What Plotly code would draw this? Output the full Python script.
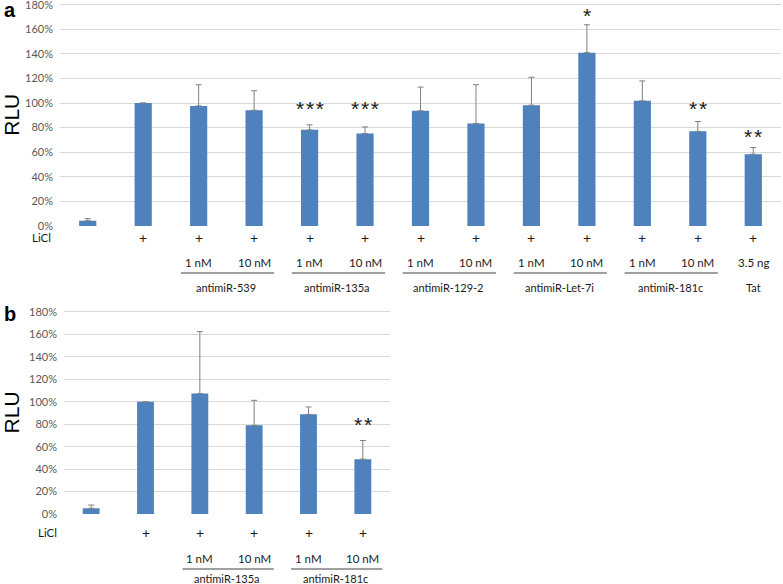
import plotly.graph_objects as go

W, H = 783, 584

# ---------------- data ----------------
a_values = [0.043, 1.00, 0.977, 0.942, 0.782, 0.752, 0.937, 0.834, 0.983, 1.41, 1.018, 0.77, 0.584]
a_errors = [0.017, None, 0.172, 0.158, 0.041, 0.054, 0.193, 0.316, 0.227, 0.227, 0.162, 0.08, 0.054]
a_licl = ["", "+", "+", "+", "+", "+", "+", "+", "+", "+", "+", "+", "+"]
a_dose = ["", "", "1 nM", "10 nM", "1 nM", "10 nM", "1 nM", "10 nM", "1 nM", "10 nM", "1 nM", "10 nM", "3.5 ng"]
a_stars = ["", "", "", "", "***", "***", "", "", "", "*", "", "**", "**"]
a_star_y = [0, 0, 0, 0, 0.955, 0.955, 0, 0, 0, 1.71, 0, 0.955, 0.73]
a_groups = ["antimiR-539", "antimiR-135a", "antimiR-129-2", "antimiR-Let-7i", "antimiR-181c"]
a_group_start = [2, 4, 6, 8, 10]

b_values = [0.051, 1.00, 1.073, 0.79, 0.888, 0.489]
b_errors = [0.029, None, 0.552, 0.223, 0.066, 0.166]
b_licl = ["", "+", "+", "+", "+", "+"]
b_dose = ["", "", "1 nM", "10 nM", "1 nM", "10 nM"]
b_stars = ["", "", "", "", "", "**"]
b_star_y = [0, 0, 0, 0, 0, 0.80]
b_groups = ["antimiR-135a", "antimiR-181c"]
b_group_start = [2, 4]

y_ticks = [0, 0.2, 0.4, 0.6, 0.8, 1.0, 1.2, 1.4, 1.6, 1.8]
y_ticklabels = ["0%", "20%", "40%", "60%", "80%", "100%", "120%", "140%", "160%", "180%"]
Y_MAX = 1.81

BAR = "#4f81bd"
ERR = "#808080"
GRID = "#d9d9d9"
TICKC = "#595959"
TXT = "#1a1a1a"
TFONT = "Lato"

def py(p):
    return 1 - p / H

def top_px(zero_px, px_180):
    # pixel of range top so that 180% falls at px_180
    return zero_px - (zero_px - px_180) * Y_MAX / 1.8

fig = go.Figure()

panels = [
    dict(vals=a_values, errs=a_errors, licl=a_licl, dose=a_dose, stars=a_stars, star_y=a_star_y,
         groups=a_groups, gstart=a_group_start, xa="x", ya="y",
         xdom=[60 / W, 781 / W], ydom=[py(226), py(top_px(226, 4.7))],
         rows=[py(237), py(262), py(273), py(287)], licl_x=53, label="a", label_y=py(10)),
    dict(vals=b_values, errs=b_errors, licl=b_licl, dose=b_dose, stars=b_stars, star_y=b_star_y,
         groups=b_groups, gstart=b_group_start, xa="x2", ya="y2",
         xdom=[64 / W, 390 / W], ydom=[py(514), py(top_px(514, 312))],
         rows=[py(532), py(558), py(569), py(578)], licl_x=59, label="b", label_y=py(314)),
]

annotations = []
shapes = []
for k, p in enumerate(panels):
    n = len(p["vals"])
    xs = list(range(n))
    err_arr = [e if e is not None else 0 for e in p["errs"]]
    fig.add_trace(go.Bar(
        x=xs, y=p["vals"], width=0.31, marker=dict(color=BAR, line=dict(width=0)),
        error_y=dict(type="data", symmetric=False, array=err_arr, arrayminus=[0] * n,
                     color=ERR, thickness=1, width=3, visible=True),
        xaxis=p["xa"], yaxis=p["ya"], showlegend=False, hoverinfo="skip"))
    xa, ya = p["xa"], p["ya"]
    for i in range(n):
        if p["stars"][i]:
            annotations.append(dict(x=i, y=p["star_y"][i], xref=xa, yref=ya,
                                    text="\u200a".join(p["stars"][i]),
                                    showarrow=False, font=dict(family="Liberation Sans", size=21, color=TXT),
                                    xanchor="center", yanchor="middle"))
        if p["licl"][i]:
            annotations.append(dict(x=i, y=p["rows"][0], xref=xa, yref="paper", text=p["licl"][i],
                                    showarrow=False, font=dict(family=TFONT, size=14, color=TXT),
                                    xanchor="center", yanchor="middle"))
        if p["dose"][i]:
            annotations.append(dict(x=i, y=p["rows"][1], xref=xa, yref="paper", text=p["dose"][i],
                                    showarrow=False, font=dict(family=TFONT, size=11.5, color=TXT),
                                    xanchor="center", yanchor="middle"))
    for g, s in zip(p["groups"], p["gstart"]):
        shapes.append(dict(type="line", xref=xa, yref="paper", x0=s - 0.32, x1=s + 1 + 0.36,
                           y0=p["rows"][2], y1=p["rows"][2], line=dict(color="#404040", width=1)))
        annotations.append(dict(x=s + 0.5, y=p["rows"][3], xref=xa, yref="paper", text=g,
                                showarrow=False, font=dict(family=TFONT, size=11, color=TXT),
                                xanchor="center", yanchor="middle"))
    if k == 0:
        annotations.append(dict(x=12, y=p["rows"][3], xref=xa, yref="paper", text="Tat",
                                showarrow=False, font=dict(family=TFONT, size=11, color=TXT),
                                xanchor="center", yanchor="middle"))
    annotations.append(dict(x=p["licl_x"] / W, y=p["rows"][0], xref="paper", yref="paper", text="LiCl",
                            showarrow=False, font=dict(family=TFONT, size=11.5, color=TXT),
                            xanchor="right", yanchor="middle"))
    annotations.append(dict(x=2 / W, y=p["label_y"], xref="paper", yref="paper", text="<b>%s</b>" % p["label"],
                            showarrow=False, font=dict(family="Liberation Sans", size=20, color="#000"),
                            xanchor="left", yanchor="middle"))

axis_common = dict(showgrid=False, zeroline=False, showline=False, showticklabels=False, ticks="")
yaxis_common = dict(range=[0, Y_MAX], tickvals=y_ticks, ticktext=y_ticklabels, showgrid=True, gridcolor=GRID,
                    gridwidth=1, zeroline=False, showline=False, ticks="", automargin=False,
                    ticklabeloverflow="allow",
                    tickfont=dict(family=TFONT, size=11, color=TICKC), ticklabelstandoff=6,
                    title=dict(text="RLU", font=dict(family="Liberation Sans", size=21, color="#000"), standoff=8))

fig.update_layout(
    width=W, height=H, margin=dict(l=0, r=0, t=0, b=0, autoexpand=False),
    paper_bgcolor="white", plot_bgcolor="white",
    bargap=0.69,
    xaxis=dict(domain=panels[0]["xdom"], range=[-0.5, 12.5], anchor="y", automargin=False, **axis_common),
    yaxis=dict(domain=panels[0]["ydom"], anchor="x", **yaxis_common),
    xaxis2=dict(domain=panels[1]["xdom"], range=[-0.5, 5.5], anchor="y2", automargin=False, **axis_common),
    yaxis2=dict(domain=panels[1]["ydom"], anchor="x2", **yaxis_common),
    annotations=annotations, shapes=shapes,
)

fig.write_html("out.html", config={"displayModeBar": False},
               post_script="document.body.style.margin='0';document.body.style.overflow='hidden';")
